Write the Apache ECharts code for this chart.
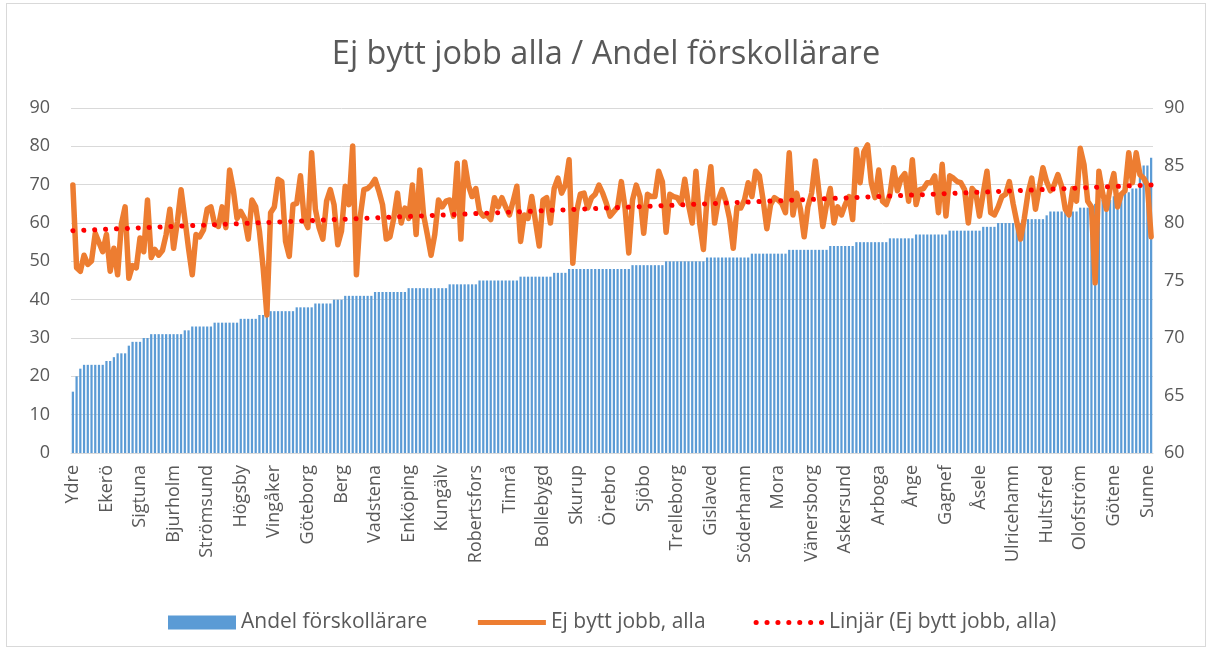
<!DOCTYPE html>
<html>
<head>
<meta charset="utf-8">
<title>Ej bytt jobb alla / Andel förskollärare</title>
<script src="https://cdn.jsdelivr.net/npm/echarts@6/dist/echarts.min.js"></script>
<style>
  html, body { margin: 0; padding: 0; background: #fff; }
  #frame { position: absolute; left: 6px; top: 3px; width: 1200px; height: 644px; border: 1px solid #d9d9d9; box-sizing: border-box; }
  #main { position: absolute; left: 0; top: 0; width: 1212px; height: 652px; }
</style>
</head>
<body>
<div id="frame"></div>
<div id="main"></div>
<script>
// municipalities shown on the axis (every 9th of 290)
var labelNames = ['Ydre', 'Ekerö', 'Sigtuna', 'Bjurholm', 'Strömsund', 'Högsby', 'Vingåker', 'Göteborg', 'Berg',
  'Vadstena', 'Enköping', 'Kungälv', 'Robertsfors', 'Timrå', 'Bollebygd', 'Skurup', 'Örebro', 'Sjöbo',
  'Trelleborg', 'Gislaved', 'Söderhamn', 'Mora', 'Vänersborg', 'Askersund', 'Arboga', 'Ånge', 'Gagnef',
  'Åsele', 'Ulricehamn', 'Hultsfred', 'Olofström', 'Götene', 'Sunne'];

// Andel förskollärare (left axis)
var andel = [
  16, 20, 22, 23, 23, 23, 23, 23, 23, 24, 24, 25, 26, 26, 26, 28, 29, 29, 29, 30, 30, 31, 31, 31, 31,
  31, 31, 31, 31, 31, 32, 32, 33, 33, 33, 33, 33, 33, 34, 34, 34, 34, 34, 34, 34, 35, 35, 35, 35, 35,
  36, 36, 36, 37, 37, 37, 37, 37, 37, 37, 38, 38, 38, 38, 38, 39, 39, 39, 39, 39, 40, 40, 40,
  41, 41, 41, 41, 41, 41, 41, 41, 42, 42, 42, 42, 42, 42, 42, 42, 42,
  43, 43, 43, 43, 43, 43, 43, 43, 43, 43, 43, 44, 44, 44, 44, 44, 44, 44, 44,
  45, 45, 45, 45, 45, 45, 45, 45, 45, 45, 45, 46, 46, 46, 46, 46, 46, 46, 46, 46, 47, 47, 47, 47,
  48, 48, 48, 48, 48, 48, 48, 48, 48, 48, 48, 48, 48, 48, 48, 48, 48, 49, 49, 49, 49, 49, 49, 49, 49, 49,
  50, 50, 50, 50, 50, 50, 50, 50, 50, 50, 50, 51, 51, 51, 51, 51, 51, 51, 51, 51, 51, 51, 51,
  52, 52, 52, 52, 52, 52, 52, 52, 52, 52, 53, 53, 53, 53, 53, 53, 53, 53, 53, 53, 53,
  54, 54, 54, 54, 54, 54, 54, 55, 55, 55, 55, 55, 55, 55, 55, 55, 56, 56, 56, 56, 56, 56, 56,
  57, 57, 57, 57, 57, 57, 57, 57, 57, 58, 58, 58, 58, 58, 58, 58, 58, 58, 59, 59, 59, 59,
  60, 60, 60, 60, 60, 60, 60, 61, 61, 61, 61, 61, 61, 62, 63, 63, 63, 63, 63, 63, 63, 63,
  64, 64, 64, 65, 65, 66, 66, 66, 66, 67, 67, 67, 68, 68, 69, 69, 72, 75, 75, 77
];

// Ej bytt jobb, alla (right axis)
var ejBytt = [
  83.3, 76.1, 75.8, 77.2, 76.4, 76.7, 79.1, 78.3, 77.5, 79.0, 75.8, 77.8, 75.5, 79.9, 81.4, 75.2, 76.3, 76.1, 78.7, 77.5, 82.0, 77.0, 77.7, 77.2, 77.6,
  79.0, 81.2, 77.8, 80.1, 82.9, 80.4, 77.8, 75.5, 79.0, 78.8, 79.4, 81.2, 81.4, 79.9, 79.7, 81.4, 79.6, 84.6, 82.9, 80.4, 81.0, 80.4, 78.6, 82.0, 81.4, 79.3, 76.1,
  72.0, 80.9, 81.4, 83.8, 83.6, 78.4, 77.1, 81.6, 81.7, 84.1, 80.3, 79.6, 86.1, 81.2, 79.6, 78.6, 81.9, 82.9, 81.6, 78.1, 79.3, 83.2, 81.6, 86.7, 75.5, 80.5, 82.9,
  83.0, 83.3, 83.8, 82.8, 81.6, 78.6, 78.8, 80.4, 82.6, 80.0, 81.3, 80.4, 83.3, 79.0, 84.6, 80.7, 79.0, 77.2, 79.0, 82.0, 81.4, 81.9, 82.0, 80.6, 85.2, 78.6, 85.3,
  83.3, 82.3, 83.0, 81.0, 80.6, 80.7, 80.3, 82.2, 81.4, 82.2, 81.4, 80.7, 81.9, 83.2, 78.4, 80.7, 80.4, 82.3, 80.1, 78.0, 82.0, 82.2, 80.0, 83.0, 83.9, 82.6, 83.3,
  85.5, 76.5, 81.0, 82.5, 82.6, 81.3, 82.2, 82.5, 83.3, 82.6, 81.7, 80.6, 81.0, 81.4, 83.6, 81.3, 77.4, 82.0, 83.3, 82.3, 79.1, 82.5, 82.3, 82.3, 84.5, 83.6, 79.2,
  82.5, 82.3, 82.2, 81.7, 83.8, 81.6, 80.0, 84.5, 80.0, 77.7, 82.3, 84.9, 80.0, 82.0, 82.9, 81.9, 80.4, 77.8, 81.4, 81.3, 82.0, 83.5, 82.3, 84.5, 84.1, 82.0, 79.5,
  81.6, 82.2, 82.0, 81.7, 80.9, 86.1, 80.7, 82.6, 81.2, 78.8, 81.4, 82.6, 85.4, 82.6, 79.7, 81.6, 83.0, 80.0, 81.4, 80.7, 81.6, 82.3, 80.3, 86.4, 83.5, 86.2, 86.8,
  83.5, 82.2, 84.6, 81.9, 81.6, 82.5, 84.8, 82.8, 83.9, 84.3, 81.9, 85.5, 81.6, 82.9, 83.0, 83.5, 83.5, 84.1, 80.9, 85.1, 80.6, 84.1, 83.9, 83.6, 83.5, 82.9, 80.0,
  83.0, 82.6, 80.6, 82.6, 84.5, 80.9, 80.7, 81.4, 82.3, 82.5, 83.6, 81.7, 80.1, 78.6, 80.4, 82.6, 83.9, 81.2, 83.0, 84.8, 83.6, 82.8, 83.3, 84.2, 83.2, 81.2,
  80.7, 83.0, 81.9, 86.5, 85.1, 81.9, 81.4, 74.8, 84.5, 82.6, 81.2, 83.0, 84.3, 81.4, 82.5, 82.8, 86.1, 83.5, 86.1, 84.2, 83.9, 83.3, 78.8
];

// Linjär trend: start and end values
var trendEnds = [79.33, 83.31];

var categories = [];
for (var i = 0; i < andel.length; i++) {
  categories.push(i % 9 === 0 ? labelNames[i / 9] : '');
}
var trendData = [[0, trendEnds[0]], [andel.length - 1, trendEnds[1]]];

var font = 'Open Sans';
var textColor = '#595959';
var orangeLine = { color: '#ed7d31', width: 5.5, join: 'round', cap: 'round' };
var redDots = { color: '#ff0000', width: 5, type: [0.1, 10.8], cap: 'round' };

var myChart = echarts.init(document.getElementById('main'));
var option = {
  backgroundColor: 'transparent',
  animation: false,
  textStyle: { fontFamily: font },
  title: {
    text: 'Ej bytt jobb alla / Andel förskollärare',
    left: 'center',
    top: 33,
    textStyle: { fontFamily: font, fontSize: 32.5, fontWeight: 'normal', color: textColor }
  },
  legend: {
    left: 163,
    top: 607,
    itemWidth: 68,
    itemHeight: 14,
    itemGap: 48,
    textStyle: { fontFamily: font, fontSize: 21, color: textColor },
    data: [
      { name: 'Andel förskollärare', icon: 'rect' },
      { name: 'Ej bytt jobb, alla', itemStyle: { opacity: 0 }, lineStyle: { width: 5, cap: 'butt' } },
      { name: 'Linjär (Ej bytt jobb, alla)', itemStyle: { opacity: 0 }, lineStyle: { width: 5, type: [0.1, 10.8], cap: 'round' } }
    ]
  },
  grid: { left: 71, right: 59, top: 108, bottom: 199 },
  xAxis: {
    type: 'category',
    data: categories,
    boundaryGap: true,
    axisLine: { lineStyle: { color: '#d9d9d9', width: 1 } },
    axisTick: { show: false },
    axisLabel: {
      interval: 8,
      rotate: 90,
      margin: 12,
      fontFamily: font,
      fontSize: 18,
      color: textColor
    }
  },
  yAxis: [
    {
      type: 'value',
      min: 0,
      max: 90,
      interval: 10,
      axisLine: { show: false },
      axisTick: { show: false },
      splitLine: { lineStyle: { color: '#d9d9d9', width: 1 } },
      axisLabel: { margin: 21, fontFamily: font, fontSize: 18, color: textColor }
    },
    {
      type: 'value',
      min: 60,
      max: 90,
      interval: 5,
      axisLine: { show: false },
      axisTick: { show: false },
      splitLine: { show: false },
      axisLabel: { margin: 11, fontFamily: font, fontSize: 18, color: textColor }
    }
  ],
  series: [
    {
      name: 'Andel förskollärare',
      type: 'bar',
      yAxisIndex: 0,
      barCategoryGap: '40%',
      itemStyle: { color: '#5b9bd5' },
      data: andel,
      z: 1
    },
    {
      name: 'Ej bytt jobb, alla',
      type: 'line',
      yAxisIndex: 1,
      symbol: 'none',
      smooth: false,
      lineStyle: orangeLine,
      itemStyle: { color: '#ed7d31' },
      data: ejBytt,
      z: 2
    },
    {
      name: 'Linjär (Ej bytt jobb, alla)',
      type: 'line',
      yAxisIndex: 1,
      symbol: 'none',
      lineStyle: redDots,
      itemStyle: { color: '#ff0000' },
      data: trendData,
      z: 3
    }
  ]
};
myChart.setOption(option);
</script>
</body>
</html>
